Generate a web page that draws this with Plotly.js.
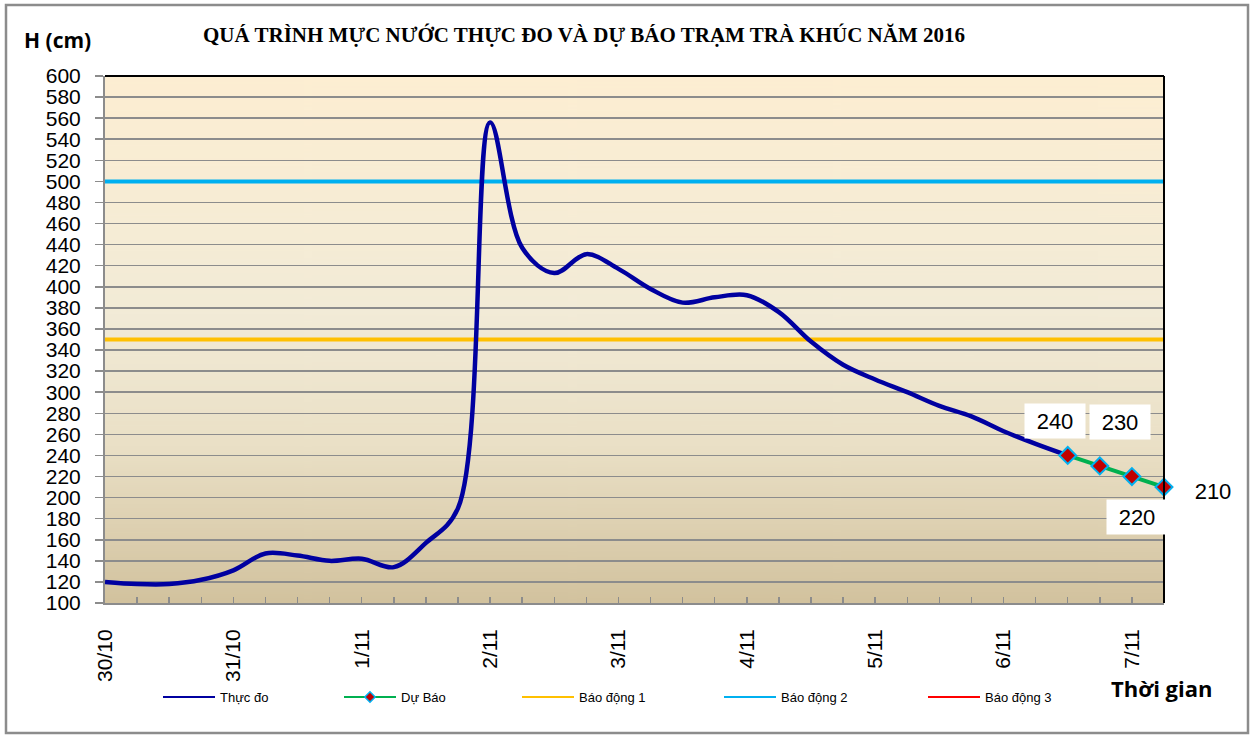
<!DOCTYPE html>
<html>
<head>
<meta charset="utf-8">
<script src="https://cdn.plot.ly/plotly-3.0.1.min.js"></script>
<style>
  html, body { margin: 0; padding: 0; background: #ffffff; }
  #chart { width: 1251px; height: 735px; }
</style>
</head>
<body>
<div id="chart"></div>
<script>
// ---------------- DATA ----------------
// 6-hourly time steps, 4 per day; day labels placed every 4th step
const dayLabels = ['30/10', '31/10', '1/11', '2/11', '3/11', '4/11', '5/11', '6/11', '7/11'];
const stepsPerDay = 4;
const totalSteps = 34;

// Observed water level (Thực đo), cm, steps 0..30
const observed = [120, 118, 118, 122, 131, 147, 145, 140, 142, 134,
                  157, 190, 556, 437, 413, 431, 417, 398, 385, 390,
                  392, 376, 348, 326, 312, 300, 287, 277, 263, 251,
                  240];
// Forecast (Dự Báo), cm, steps 30..33
const forecastStart = 30;
const forecast = [240, 230, 220, 210];

// Alarm levels (Báo động), cm
const alarm1 = 350;
const alarm2 = 500;
const alarm3 = 650;

const seriesNames = ['Thực đo', 'Dự Báo', 'Báo động 1', 'Báo động 2', 'Báo động 3'];
const seriesColors = ['#0000A0', '#00B050', '#FFC000', '#00B0F0', '#FF0000'];

// ---------------- LAYOUT CONSTANTS ----------------
const W = 1251, H = 735;
const M = { l: 105, r: 87, t: 76, b: 132 };
const PW = W - M.l - M.r, PH = H - M.t - M.b;
const px2x = px => (px - M.l) / PW;
const py2y = py => (H - M.b - py) / PH;

const obsX = observed.map((_, i) => i);
const fcX = forecast.map((_, i) => forecastStart + i);
const allX = [];
for (let i = 0; i < totalSteps; i++) allX.push(i);
const tickText = allX.map(i => (i % stepsPerDay === 0 && dayLabels[i / stepsPerDay]) ? dayLabels[i / stepsPerDay] : '');
const xEnds = [0, totalSteps - 1];

// gradient background image
function gradientURL() {
  const c = document.createElement('canvas');
  c.width = 8; c.height = 512;
  const g = c.getContext('2d');
  const gr = g.createLinearGradient(0, 0, 0, 512);
  gr.addColorStop(0, '#FDEED2');
  gr.addColorStop(0.45, '#F2EBD7');
  gr.addColorStop(0.7, '#EAE0C6');
  gr.addColorStop(1, '#D2C29E');
  g.fillStyle = gr;
  g.fillRect(0, 0, 8, 512);
  return c.toDataURL('image/png');
}

const dataTraces = [
  {
    x: xEnds, y: [alarm1, alarm1], name: seriesNames[2], type: 'scatter', mode: 'lines',
    line: { color: seriesColors[2], width: 4 }, showlegend: false
  },
  {
    x: xEnds, y: [alarm2, alarm2], name: seriesNames[3], type: 'scatter', mode: 'lines',
    line: { color: seriesColors[3], width: 4 }, showlegend: false
  },
  {
    x: xEnds, y: [alarm3, alarm3], name: seriesNames[4], type: 'scatter', mode: 'lines',
    line: { color: seriesColors[4], width: 2.5 }, showlegend: false
  },
  {
    x: obsX, y: observed, name: seriesNames[0], type: 'scatter', mode: 'lines',
    line: { color: seriesColors[0], width: 4.5, shape: 'spline', smoothing: 1 },
    showlegend: false
  },
  {
    x: fcX, y: forecast, name: seriesNames[1], type: 'scatter', mode: 'lines+markers',
    line: { color: seriesColors[1], width: 4 },
    marker: { symbol: 'diamond', size: 13, color: '#C00000', line: { color: '#00B0F0', width: 2 } },
    cliponaxis: false, showlegend: false
  }
];

// legend entries (thin line samples, as in the original legend)
const legendNames = ['legend', 'legend2', 'legend3', 'legend4', 'legend5'];
const legendTraces = seriesNames.map((nm, i) => {
  const t = {
    x: [null], y: [null], name: nm, type: 'scatter',
    mode: 'lines',
    line: { color: seriesColors[i], width: 2 },
    legend: legendNames[i], showlegend: true
  };
  if (i === 1) {
    t.mode = 'lines+markers';
    t.marker = { symbol: 'diamond', size: 8, color: '#C00000', line: { color: '#00B0F0', width: 1.5 } };
  }
  return t;
});

function legendAt(px) {
  return {
    orientation: 'h', xref: 'container', yref: 'container',
    x: px / W, y: 1 - 697 / H, xanchor: 'left', yanchor: 'middle',
    bgcolor: 'rgba(0,0,0,0)', borderwidth: 0,
    font: { family: 'Arial, Liberation Sans, sans-serif', size: 13, color: '#000' },
    itemwidth: 52
  };
}

const labelFont = { family: 'Arial, Liberation Sans, sans-serif', size: 22, color: '#000' };
const labelOffsets = [[-13, 34], [20, 44], [5, -40], [49, -4]];
const dataLabels = forecast.map((v, i) => ({
  x: fcX[i], y: v, xref: 'x', yref: 'y', text: String(v), showarrow: false,
  xshift: labelOffsets[i][0], yshift: labelOffsets[i][1],
  bgcolor: '#ffffff', width: 58, height: 32, font: labelFont
}));

const layout = {
  width: W, height: H,
  margin: M,
  paper_bgcolor: '#ffffff',
  plot_bgcolor: 'rgba(0,0,0,0)',
  showlegend: true,
  title: {
    text: 'QUÁ TRÌNH MỰC NƯỚC THỰC ĐO VÀ DỰ BÁO TRẠM TRÀ KHÚC NĂM 2016',
    xref: 'container', yref: 'container', x: 584 / W, y: 1 - 35 / H,
    xanchor: 'center', yanchor: 'middle',
    font: { family: 'Liberation Serif, Times New Roman, serif', size: 21, color: '#000', weight: 'bold' }
  },
  xaxis: {
    range: [0, totalSteps - 1], type: 'linear',
    tickmode: 'array', tickvals: allX, ticktext: tickText, tickangle: -90,
    ticks: 'inside', ticklen: 6, tickwidth: 1.5, tickcolor: '#8c8c8c',
    ticklabelstandoff: 16,
    showgrid: false, zeroline: false,
    showline: true, linecolor: '#8c8c8c', linewidth: 2,
    tickfont: { family: 'Arial, Liberation Sans, sans-serif', size: 21, color: '#000' },
    fixedrange: true
  },
  yaxis: {
    range: [100, 600], dtick: 20, tick0: 100,
    ticks: 'outside', ticklen: 8, tickwidth: 1.5, tickcolor: '#8c8c8c',
    ticklabelstandoff: 10,
    showgrid: true, gridcolor: '#8c8c8c', gridwidth: 1.5,
    zeroline: false, showline: true, linecolor: '#8c8c8c', linewidth: 2,
    tickfont: { family: 'Arial, Liberation Sans, sans-serif', size: 21, color: '#000' },
    fixedrange: true
  },
  legend: legendAt(158),
  legend2: legendAt(339),
  legend3: legendAt(517),
  legend4: legendAt(719),
  legend5: legendAt(923),
  images: [{
    source: gradientURL(), xref: 'paper', yref: 'paper',
    x: 0, y: 1, sizex: 1, sizey: 1, sizing: 'stretch',
    xanchor: 'left', yanchor: 'top', layer: 'below'
  }],
  shapes: [
    { type: 'line', xref: 'paper', yref: 'paper', x0: 0, x1: 1, y0: 1, y1: 1, line: { color: '#000', width: 2 } },
    { type: 'line', xref: 'paper', yref: 'paper', x0: 1, x1: 1, y0: 0, y1: 1, line: { color: '#000', width: 2 } },
    { type: 'rect', xref: 'paper', yref: 'paper', x0: px2x(6), x1: px2x(1248), y0: py2y(733), y1: py2y(5),
      line: { color: '#8c8c8c', width: 2.5 }, fillcolor: 'rgba(0,0,0,0)' }
  ],
  annotations: dataLabels.concat([
    { xref: 'paper', yref: 'paper', x: px2x(57), y: py2y(40), text: '<b>H (cm)</b>', showarrow: false,
      xanchor: 'center', yanchor: 'middle',
      font: { family: 'Open Sans, Lato, sans-serif', size: 21, color: '#000' } },
    { xref: 'paper', yref: 'paper', x: px2x(1161), y: py2y(688), text: '<b>Thời gian</b>', showarrow: false,
      xanchor: 'center', yanchor: 'middle',
      font: { family: 'Open Sans, Lato, sans-serif', size: 22, color: '#000' } }
  ])
};

Plotly.newPlot('chart', dataTraces.concat(legendTraces), layout, { displayModeBar: false, staticPlot: true });
</script>
</body>
</html>
